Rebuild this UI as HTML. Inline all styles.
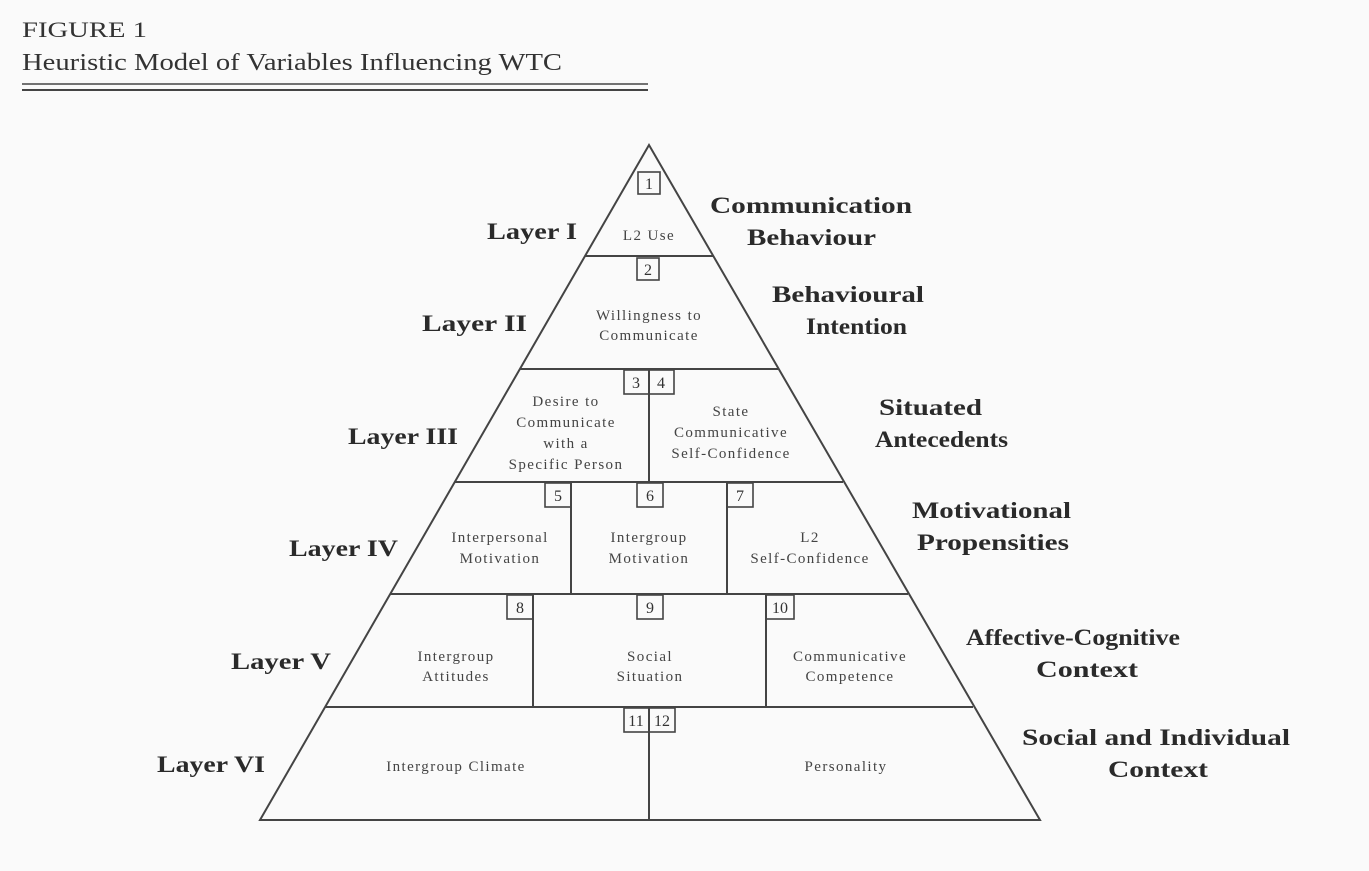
<!DOCTYPE html>
<html><head><meta charset="utf-8"><style>
html,body{margin:0;padding:0;background:#fafafa;}
svg{display:block}
.t{font-family:"Liberation Serif",serif;fill:#333;}
.c{font-family:"Liberation Serif",serif;fill:#444;font-size:15px;text-anchor:middle;letter-spacing:1.4px;}
.n{font-family:"Liberation Serif",serif;fill:#333;font-size:16px;text-anchor:middle;}
.L{font-family:"Liberation Serif",serif;font-weight:bold;fill:#2a2a2a;font-size:23px;}
.R{font-family:"Liberation Serif",serif;font-weight:bold;fill:#2a2a2a;font-size:23px;}
</style></head><body>
<svg width="1369" height="871" viewBox="0 0 1369 871" xmlns="http://www.w3.org/2000/svg">
<rect width="1369" height="871" fill="#fafafa"/>
<text class="t" x="22" y="37" font-size="22" textLength="125" lengthAdjust="spacingAndGlyphs">FIGURE 1</text>
<text class="t" x="22" y="70" font-size="24" textLength="540" lengthAdjust="spacingAndGlyphs">Heuristic Model of Variables Influencing WTC</text>
<line x1="22" y1="84" x2="648" y2="84" stroke="#444" stroke-width="1.5"/>
<line x1="22" y1="90" x2="648" y2="90" stroke="#444" stroke-width="2"/>
<g stroke="#444" stroke-width="2" fill="none">
<polygon points="649,145 260,820 1040,820"/>
<line x1="585" y1="256" x2="713" y2="256"/>
<line x1="520" y1="369" x2="778" y2="369"/>
<line x1="455" y1="482" x2="843" y2="482"/>
<line x1="390" y1="594" x2="908" y2="594"/>
<line x1="325" y1="707" x2="973" y2="707"/>
<line x1="649" y1="369" x2="649" y2="482"/>
<line x1="571" y1="482" x2="571" y2="594"/>
<line x1="727" y1="482" x2="727" y2="594"/>
<line x1="533" y1="594" x2="533" y2="707"/>
<line x1="766" y1="594" x2="766" y2="707"/>
<line x1="649" y1="707" x2="649" y2="820"/>
<g stroke-width="1.6">
<rect x="638" y="172" width="22" height="22"/>
<rect x="637" y="258" width="22" height="22"/>
<rect x="624" y="370" width="25" height="24"/>
<rect x="649" y="370" width="25" height="24"/>
<rect x="545" y="483" width="26" height="24"/>
<rect x="637" y="483" width="26" height="24"/>
<rect x="727" y="483" width="26" height="24"/>
<rect x="507" y="595" width="26" height="24"/>
<rect x="637" y="595" width="26" height="24"/>
<rect x="766" y="595" width="28" height="24"/>
<rect x="624" y="708" width="25" height="24"/>
<rect x="649" y="708" width="26" height="24"/>
</g></g>
<g class="n">
<text x="649" y="189">1</text><text x="648" y="275">2</text>
<text x="636" y="388">3</text><text x="661" y="388">4</text>
<text x="558" y="501">5</text><text x="650" y="501">6</text><text x="740" y="501">7</text>
<text x="520" y="613">8</text><text x="650" y="613">9</text><text x="780" y="613">10</text>
<text x="636" y="726">11</text><text x="662" y="726">12</text>
</g>
<g class="c">
<text x="649" y="240">L2 Use</text>
<text x="649" y="320">Willingness to</text><text x="649" y="340">Communicate</text>
<text x="566" y="406">Desire to</text><text x="566" y="427">Communicate</text><text x="566" y="448">with a</text><text x="566" y="469">Specific Person</text>
<text x="731" y="416">State</text><text x="731" y="437">Communicative</text><text x="731" y="458">Self-Confidence</text>
<text x="500" y="542">Interpersonal</text><text x="500" y="563">Motivation</text>
<text x="649" y="542">Intergroup</text><text x="649" y="563">Motivation</text>
<text x="810" y="542">L2</text><text x="810" y="563">Self-Confidence</text>
<text x="456" y="661">Intergroup</text><text x="456" y="681">Attitudes</text>
<text x="650" y="661">Social</text><text x="650" y="681">Situation</text>
<text x="850" y="661">Communicative</text><text x="850" y="681">Competence</text>
<text x="456" y="771">Intergroup Climate</text>
<text x="846" y="771">Personality</text>
</g>
<g lengthAdjust="spacingAndGlyphs">
<text class="L" x="487" y="239" textLength="90" lengthAdjust="spacingAndGlyphs">Layer I</text>
<text class="L" x="422" y="331" textLength="105" lengthAdjust="spacingAndGlyphs">Layer II</text>
<text class="L" x="348" y="444" textLength="110" lengthAdjust="spacingAndGlyphs">Layer III</text>
<text class="L" x="289" y="556" textLength="109" lengthAdjust="spacingAndGlyphs">Layer IV</text>
<text class="L" x="231" y="669" textLength="100" lengthAdjust="spacingAndGlyphs">Layer V</text>
<text class="L" x="157" y="772" textLength="108" lengthAdjust="spacingAndGlyphs">Layer VI</text>
<text class="R" x="710" y="213" textLength="202" lengthAdjust="spacingAndGlyphs">Communication</text>
<text class="R" x="747" y="245" textLength="129" lengthAdjust="spacingAndGlyphs">Behaviour</text>
<text class="R" x="772" y="302" textLength="152" lengthAdjust="spacingAndGlyphs">Behavioural</text>
<text class="R" x="806" y="334" textLength="101" lengthAdjust="spacingAndGlyphs">Intention</text>
<text class="R" x="879" y="415" textLength="103" lengthAdjust="spacingAndGlyphs">Situated</text>
<text class="R" x="875" y="447" textLength="133" lengthAdjust="spacingAndGlyphs">Antecedents</text>
<text class="R" x="912" y="518" textLength="159" lengthAdjust="spacingAndGlyphs">Motivational</text>
<text class="R" x="917" y="550" textLength="152" lengthAdjust="spacingAndGlyphs">Propensities</text>
<text class="R" x="966" y="645" textLength="214" lengthAdjust="spacingAndGlyphs">Affective-Cognitive</text>
<text class="R" x="1036" y="677" textLength="102" lengthAdjust="spacingAndGlyphs">Context</text>
<text class="R" x="1022" y="745" textLength="268" lengthAdjust="spacingAndGlyphs">Social and Individual</text>
<text class="R" x="1108" y="777" textLength="100" lengthAdjust="spacingAndGlyphs">Context</text>
</g>
</svg>
</body></html>
